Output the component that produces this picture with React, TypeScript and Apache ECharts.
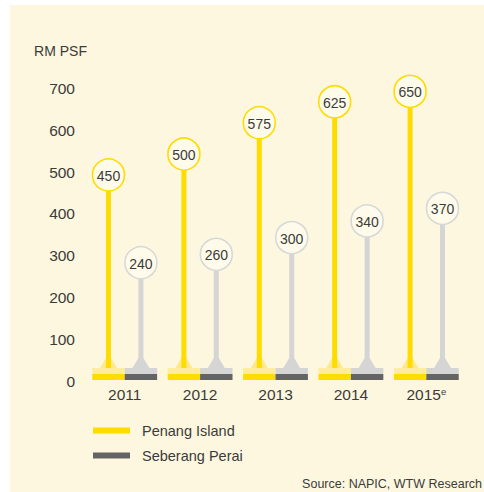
import React, { useEffect, useRef } from "react";
import * as echarts from "echarts";

const categories = ["2011", "2012", "2013", "2014", "2015e"];
const penangIsland = [450, 500, 575, 625, 650];
const seberangPerai = [240, 260, 300, 340, 370];
const yTicks = [0, 100, 200, 300, 400, 500, 600, 700];

const FONT = "'Liberation Sans', Arial, sans-serif";
const TEXT = "#3b3b3b";

type Style = { stem: string; flare: string; plateTop: string; plateBottom: string; ring: string };
const styles: Style[] = [
  { stem: "#ffdc00", flare: "#ffe98c", plateTop: "#ffec9c", plateBottom: "#ffdc00", ring: "#ffdc00" },
  { stem: "#d5d5d5", flare: "#d5d5d5", plateTop: "#d5d5d5", plateBottom: "#646464", ring: "#d8d8d8" },
];

function makeRender(side: number) {
  const st = styles[side];
  return (params: any, api: any) => {
    const idx = api.value(0);
    const val = api.value(1);
    const [cx, cy] = api.coord([idx, val]);
    const [, y0] = api.coord([idx, 0]);
    const band = api.size([1, 0])[0];
    const half = band * 0.43;
    const sx = side === 0 ? cx - half / 2 : cx + half / 2;
    const plateX = side === 0 ? cx - half : cx;
    const plateBottom = y0 - 1;
    const plateMid = plateBottom - 6;
    const plateTopY = plateMid - 6;
    const r = 16;
    const by = cy - 18;
    return {
      type: "group",
      children: [
        { type: "rect", shape: { x: plateX, y: plateTopY, width: half, height: 6 }, style: { fill: st.plateTop } },
        { type: "rect", shape: { x: plateX, y: plateMid, width: half, height: 6 }, style: { fill: st.plateBottom } },
        {
          type: "polygon",
          shape: { points: [[sx - 2.5, plateTopY - 10], [sx + 2.5, plateTopY - 10], [sx + 8.5, plateTopY], [sx - 8.5, plateTopY]] },
          style: { fill: st.flare },
        },
        { type: "rect", shape: { x: sx - 2.5, y: by + r - 1, width: 5, height: plateTopY - (by + r - 1) }, style: { fill: st.stem } },
        { type: "circle", shape: { cx: sx, cy: by, r }, style: { fill: "#fffbea", stroke: st.ring, lineWidth: 1.6 } },
        {
          type: "text",
          x: sx,
          y: by + 1,
          style: { text: String(val), fill: TEXT, font: `14px ${FONT}`, align: "center", verticalAlign: "middle" },
        },
      ],
    };
  };
}

export default function App() {
  const ref = useRef<HTMLDivElement>(null);
  useEffect(() => {
    if (!ref.current) return;
    const chart = echarts.init(ref.current, undefined, { renderer: "svg" });
    chart.setOption({
      animation: false,
      graphic: [
        { type: "rect", z: -10, shape: { x: 10, y: 5, width: 474, height: 487 }, style: { fill: "#fdf7df" } },
        {
          type: "text",
          right: 2,
          top: 477,
          style: { text: "Source: NAPIC, WTW Research", fill: TEXT, font: `12.5px ${FONT}` },
        },
      ],
      grid: { left: 87, right: 20, top: 88.5, bottom: 111, containLabel: false },
      legend: {
        orient: "vertical",
        left: 93,
        top: 423,
        padding: 0,
        itemWidth: 37,
        itemHeight: 6,
        itemGap: 10,
        icon: "rect",
        textStyle: { fontFamily: FONT, fontSize: 14.5, color: TEXT, padding: [0, 0, 0, 7] },
        data: ["Penang Island", "Seberang Perai"],
      },
      xAxis: {
        type: "category",
        data: categories,
        axisLine: { show: false },
        axisTick: { show: false },
        axisLabel: {
          interval: 0,
          margin: 5,
          fontFamily: FONT,
          fontSize: 15.5,
          color: TEXT,
          formatter: (v: string) => (v.endsWith("e") ? `${v.slice(0, -1)}{sup|e}` : v),
          rich: { sup: { fontFamily: FONT, fontSize: 9.5, color: TEXT, verticalAlign: "top", padding: [0, 0, 7, 0] } },
        },
      },
      yAxis: {
        type: "value",
        min: yTicks[0],
        max: yTicks[yTicks.length - 1],
        interval: 100,
        name: "RM PSF",
        nameLocation: "end",
        nameGap: 38,
        nameTextStyle: { fontFamily: FONT, fontSize: 14, color: TEXT, align: "right", verticalAlign: "middle" },
        axisLine: { show: false },
        axisTick: { show: false },
        splitLine: { show: false },
        axisLabel: { margin: 12, fontFamily: FONT, fontSize: 15.5, color: TEXT },
      },
      series: [
        {
          name: "Penang Island",
          type: "custom",
          itemStyle: { color: "#ffdc00" },
          renderItem: makeRender(0),
          data: penangIsland.map((v, i) => [i, v]),
        },
        {
          name: "Seberang Perai",
          type: "custom",
          itemStyle: { color: "#646464" },
          renderItem: makeRender(1),
          data: seberangPerai.map((v, i) => [i, v]),
        },
      ],
    });
    return () => chart.dispose();
  }, []);
  return <div ref={ref} style={{ position: "absolute", left: 0, top: 0, width: 484, height: 492 }} />;
}
